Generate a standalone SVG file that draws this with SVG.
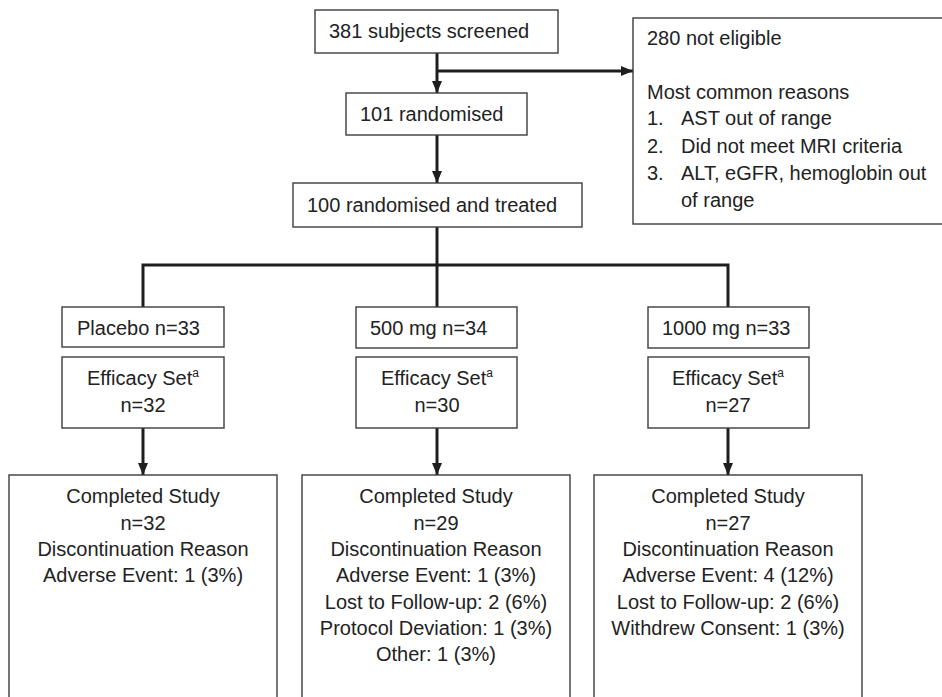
<svg xmlns="http://www.w3.org/2000/svg" width="942" height="697" viewBox="0 0 942 697">
<defs>
<style>
.box{fill:#fff;stroke:#3c3c3c;stroke-width:1.4}
.t{font-family:"Liberation Sans",Arial,sans-serif;font-size:20px;fill:#222}
.c{text-anchor:middle}
.sup{font-size:12px}
.ln{fill:none;stroke:#1e1e1e;stroke-width:3}
</style>
<marker id="ah" viewBox="0 0 12 10" refX="12" refY="5" markerWidth="12" markerHeight="10" markerUnits="userSpaceOnUse" orient="auto">
<path d="M0,0 L12,5 L0,10 Z" fill="#1e1e1e"/>
</marker>
</defs>
<rect width="942" height="697" fill="#fff"/>
<g id="connectors">
<path class="ln" d="M437,53 V93" marker-end="url(#ah)"/>
<path class="ln" d="M437,71 H633" marker-end="url(#ah)"/>
<path class="ln" d="M437,135 V183" marker-end="url(#ah)"/>
<path class="ln" d="M437,227 V307"/>
<path class="ln" d="M143,307 V265 H728 V307"/>
<path class="ln" d="M143,428 V475" marker-end="url(#ah)"/>
<path class="ln" d="M437,428 V475" marker-end="url(#ah)"/>
<path class="ln" d="M728,428 V475" marker-end="url(#ah)"/>
</g>
<g id="screened">
<rect class="box" x="315" y="10" width="243" height="43"/>
<text class="t" x="329" y="38">381 subjects screened</text>
</g>
<g id="noteligible">
<rect class="box" x="633" y="18" width="320" height="206"/>
<text class="t" x="647" y="45">280 not eligible</text>
<text class="t" x="647" y="99">Most common reasons</text>
<text class="t" x="647" y="125">1.</text><text class="t" x="681" y="125">AST out of range</text>
<text class="t" x="647" y="153">2.</text><text class="t" x="681" y="153">Did not meet MRI criteria</text>
<text class="t" x="647" y="180">3.</text><text class="t" x="681" y="180">ALT, eGFR, hemoglobin out</text>
<text class="t" x="681" y="207">of range</text>
</g>
<g id="randomised">
<rect class="box" x="346" y="93" width="181" height="42"/>
<text class="t" x="360" y="121">101 randomised</text>
</g>
<g id="treated">
<rect class="box" x="293" y="183" width="289" height="44"/>
<text class="t" x="307" y="212">100 randomised and treated</text>
</g>
<g id="placebo">
<rect class="box" x="62" y="307" width="162" height="40"/>
<text class="t" x="77" y="335">Placebo n=33</text>
</g>
<g id="dose500">
<rect class="box" x="356" y="307" width="161" height="41"/>
<text class="t" x="370" y="335">500 mg n=34</text>
</g>
<g id="dose1000">
<rect class="box" x="648" y="307" width="161" height="41"/>
<text class="t" x="662" y="335">1000 mg n=33</text>
</g>
<g id="eff-placebo">
<rect class="box" x="62" y="357" width="162" height="71"/>
<text class="t c" x="143" y="385">Efficacy Set<tspan class="sup" dy="-8">a</tspan></text>
<text class="t c" x="143" y="412">n=32</text>
</g>
<g id="eff-500">
<rect class="box" x="356" y="357" width="161" height="71"/>
<text class="t c" x="437" y="385">Efficacy Set<tspan class="sup" dy="-8">a</tspan></text>
<text class="t c" x="437" y="412">n=30</text>
</g>
<g id="eff-1000">
<rect class="box" x="648" y="357" width="161" height="71"/>
<text class="t c" x="728" y="385">Efficacy Set<tspan class="sup" dy="-8">a</tspan></text>
<text class="t c" x="728" y="412">n=27</text>
</g>
<g id="comp-placebo">
<rect class="box" x="9" y="475" width="268" height="240"/>
<text class="t c" x="143" y="503">Completed Study</text>
<text class="t c" x="143" y="530">n=32</text>
<text class="t c" x="143" y="556">Discontinuation Reason</text>
<text class="t c" x="143" y="582">Adverse Event: 1 (3%)</text>
</g>
<g id="comp-500">
<rect class="box" x="302" y="475" width="268" height="240"/>
<text class="t c" x="436" y="503">Completed Study</text>
<text class="t c" x="436" y="530">n=29</text>
<text class="t c" x="436" y="556">Discontinuation Reason</text>
<text class="t c" x="436" y="582">Adverse Event: 1 (3%)</text>
<text class="t c" x="436" y="609">Lost to Follow-up: 2 (6%)</text>
<text class="t c" x="436" y="635">Protocol Deviation: 1 (3%)</text>
<text class="t c" x="436" y="661">Other: 1 (3%)</text>
</g>
<g id="comp-1000">
<rect class="box" x="594" y="475" width="268" height="240"/>
<text class="t c" x="728" y="503">Completed Study</text>
<text class="t c" x="728" y="530">n=27</text>
<text class="t c" x="728" y="556">Discontinuation Reason</text>
<text class="t c" x="728" y="582">Adverse Event: 4 (12%)</text>
<text class="t c" x="728" y="609">Lost to Follow-up: 2 (6%)</text>
<text class="t c" x="728" y="635">Withdrew Consent: 1 (3%)</text>
</g>
</svg>
